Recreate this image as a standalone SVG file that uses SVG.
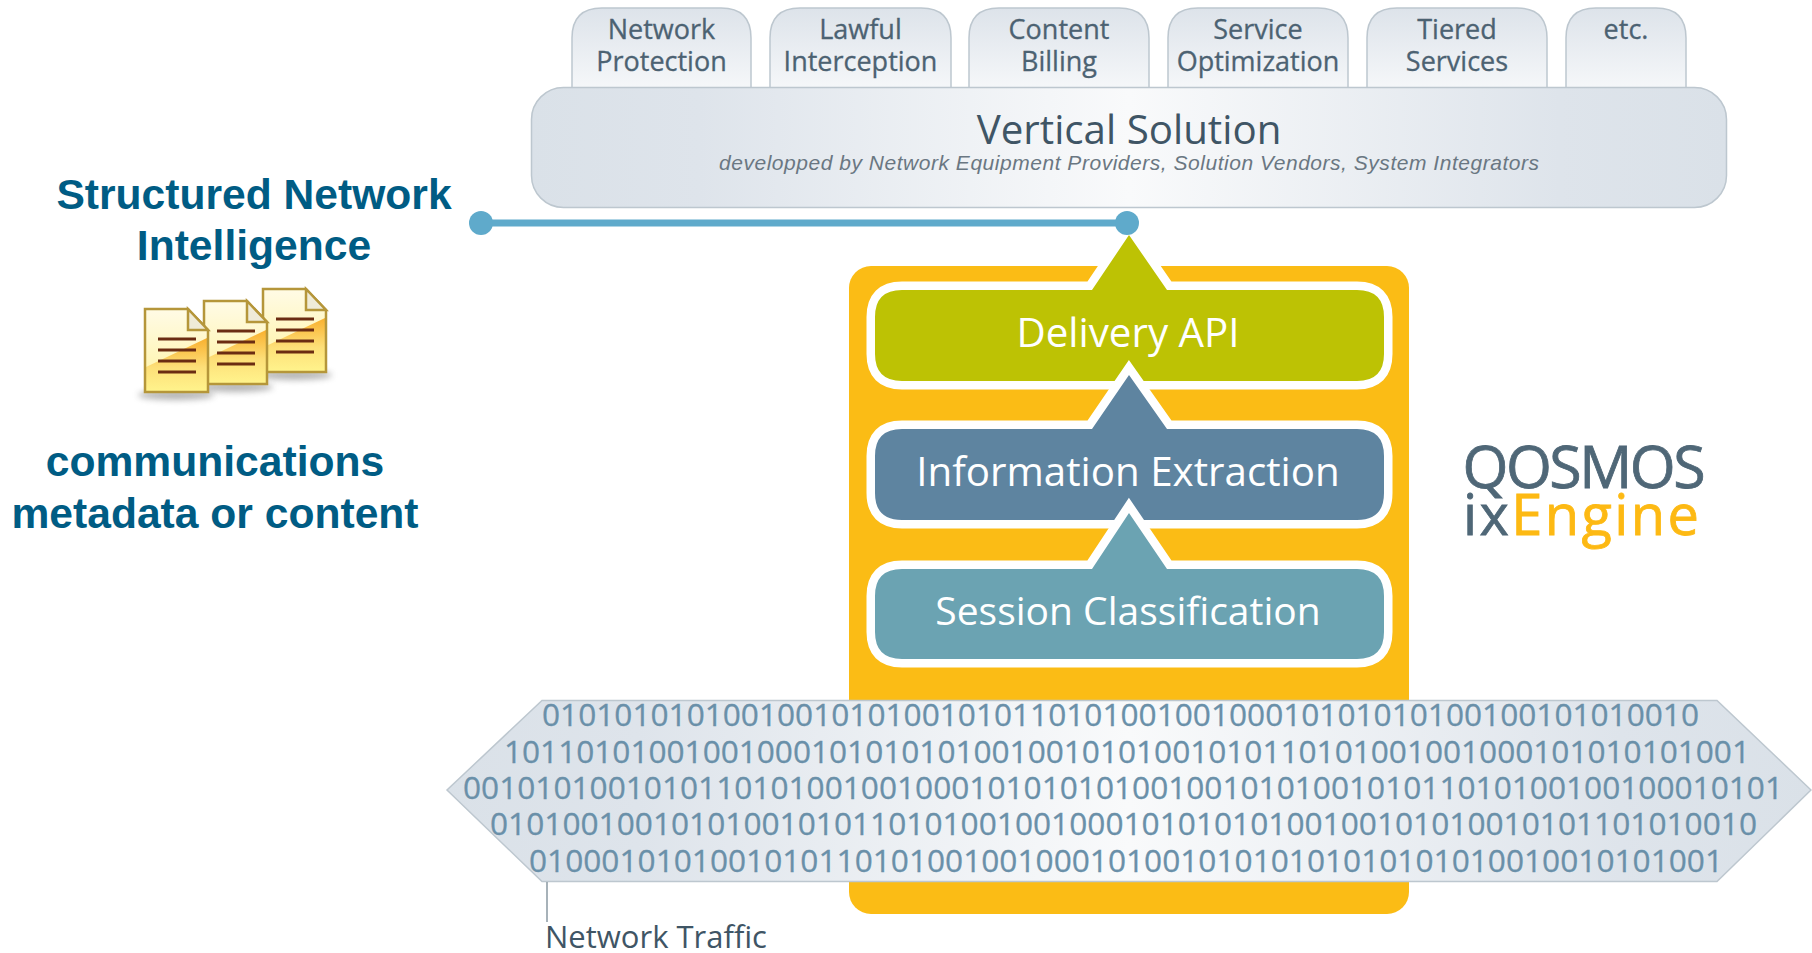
<svg xmlns="http://www.w3.org/2000/svg" xmlns:xlink="http://www.w3.org/1999/xlink" width="1812" height="953" viewBox="0 0 1812 953">
<style>
text{font-family:"Open Sans","Noto Sans",sans-serif;text-anchor:middle}
.tab{fill:url(#tabG);stroke:#BDC7CF;stroke-width:1.5}
.tabt{font-size:27px;fill:#4C6272;stroke:#4C6272;stroke-width:.3}
.bold{font-family:"Liberation Sans",Arial,sans-serif;font-weight:700;font-size:42.600px;fill:#005C84}
.layer{stroke:#fff;stroke-width:17;paint-order:stroke;stroke-linejoin:miter;stroke-miterlimit:4}
.layert{font-size:40.300px;fill:#fff}
.bin{font-size:31.6px;fill:#6A90A9;stroke:#6A90A9;stroke-width:.3;text-anchor:start}
.docl{stroke:#6B2C12;stroke-width:3;fill:none}
</style>
<defs>
<linearGradient id="tabG" x1="0" y1="0" x2="0" y2="1"><stop offset="0" stop-color="#DDE3EA"/><stop offset="1" stop-color="#F5F7F9"/></linearGradient>
<linearGradient id="barG" x1="0" y1="0" x2="1" y2="0"><stop offset="0" stop-color="#DAE1E8"/><stop offset=".14" stop-color="#DEE4EB"/><stop offset=".5" stop-color="#F9FAFB"/><stop offset=".86" stop-color="#DEE4EB"/><stop offset="1" stop-color="#DAE1E8"/></linearGradient>
<linearGradient id="docA" x1="0" y1="0" x2="0" y2="1"><stop offset="0" stop-color="#FFFBE6"/><stop offset="1" stop-color="#FFF3A0"/></linearGradient>
<linearGradient id="docB" x1="0" y1="0" x2="0" y2="1"><stop offset="0" stop-color="#F9B02E"/><stop offset=".55" stop-color="#FDDF78"/><stop offset="1" stop-color="#FFF38C"/></linearGradient>
<filter id="blur" x="-30%" y="-200%" width="160%" height="500%"><feGaussianBlur stdDeviation="3"/></filter>
<g id="doc">
<ellipse cx="176" cy="395" rx="38" ry="5" fill="#777" opacity=".55" filter="url(#blur)"/>
<path d="M145 309H188L208 330V392H145Z" fill="url(#docA)"/>
<path d="M146 367L207 338V391H146Z" fill="url(#docB)"/>
<path d="M145 309H188L208 330V392H145Z" fill="none" stroke="#B5963A" stroke-width="2.5"/>
<path d="M188 309L208 330H188Z" fill="#EFEBD8" stroke="#B5963A" stroke-width="2.5"/>
<path class="docl" d="M158 339H196M158 350H196M158 361H196M158 372H196"/>
</g>
</defs>
<rect width="1812" height="953" fill="#fff"/>

<g id="tab-network-protection"><path class="tab" d="M572 88V38Q572 8 602 8H721Q751 8 751 38V88Z"/><text class="tabt" x="661.500" y="39">Network</text><text class="tabt" x="661.500" y="71">Protection</text></g>
<g id="tab-lawful-interception"><path class="tab" d="M770 88V38Q770 8 800 8H921Q951 8 951 38V88Z"/><text class="tabt" x="860.500" y="39">Lawful</text><text class="tabt" x="860.500" y="71">Interception</text></g>
<g id="tab-content-billing"><path class="tab" d="M969 88V38Q969 8 999 8H1119Q1149 8 1149 38V88Z"/><text class="tabt" x="1059" y="39">Content</text><text class="tabt" x="1059" y="71">Billing</text></g>
<g id="tab-service-optimization"><path class="tab" d="M1168 88V38Q1168 8 1198 8H1318Q1348 8 1348 38V88Z"/><text class="tabt" x="1258" y="39">Service</text><text class="tabt" x="1258" y="71">Optimization</text></g>
<g id="tab-tiered-services"><path class="tab" d="M1367 88V38Q1367 8 1397 8H1517Q1547 8 1547 38V88Z"/><text class="tabt" x="1457" y="39">Tiered</text><text class="tabt" x="1457" y="71">Services</text></g>
<g id="tab-etc"><path class="tab" d="M1566 88V38Q1566 8 1596 8H1656Q1686 8 1686 38V88Z"/><text class="tabt" x="1626" y="39">etc.</text></g>

<g id="vertical-solution">
<rect x="531.500" y="87.500" width="1195" height="120" rx="32" fill="url(#barG)" stroke="#BDC7CF" stroke-width="1.500"/>
<text x="1129" y="144" font-size="40.300" fill="#3F5565">Vertical Solution</text>
<text x="1129" y="170" font-size="21" font-style="italic" fill="#6A7782" style="font-family:'Liberation Sans',Arial,sans-serif" textLength="820" lengthAdjust="spacing">developped by Network Equipment Providers, Solution Vendors, System Integrators</text>
</g>

<g id="qosmos-engine">
<rect x="849" y="266" width="560" height="648" rx="22" fill="#FBBC15"/>
</g>
<g id="delivery-api"><path class="layer" fill="#BDC204" d="M902 290H1092L1129 235L1167 290H1357Q1384 290 1384 317V354Q1384 381 1357 381H902Q875 381 875 354V317Q875 290 902 290Z"/><text class="layert" x="1128" y="347">Delivery API</text></g>
<g id="information-extraction"><path class="layer" fill="#5E84A0" d="M902 429H1092L1129 375L1167 429H1357Q1384 429 1384 456V493Q1384 520 1357 520H902Q875 520 875 493V456Q875 429 902 429Z"/><text class="layert" x="1128" y="486">Information Extraction</text></g>
<g id="session-classification"><path class="layer" fill="#6BA3B2" d="M902 569H1092L1129 513L1167 569H1357Q1384 569 1384 596V632Q1384 659 1357 659H902Q875 659 875 632V596Q875 569 902 569Z"/><text class="layert" x="1128" y="625" style="font-size:39px">Session Classification</text></g>

<g id="network-traffic">
<path d="M542 700.500H1717L1811 790L1717 881.500H542L447 790Z" fill="url(#barG)" stroke="#BDC7CF" stroke-width="1.500"/>
<text class="bin" x="542" y="726" textLength="1157">0101010101001001010100101011010100100100010101010100100101010010</text>
<text class="bin" x="504" y="763" textLength="1246">101101010010010001010101010010010101001010110101001001000101010101001</text>
<text class="bin" x="463" y="799" textLength="1320">0010101001010110101001001000101010101001001010100101011010100100100010101</text>
<text class="bin" x="490" y="835" textLength="1267">0101001001010100101011010100100100010101010100100101010010101101010010</text>
<text class="bin" x="529" y="872" textLength="1194">010001010100101011010100100100010100101010101010101010010010101001</text>
<text x="545" y="948" font-size="31" fill="#3F5565" style="text-anchor:start">Network Traffic</text>
</g>

<g id="logo">
<text x="1584" y="488" font-size="59" fill="#4F6777" stroke="#4F6777" stroke-width=".8" textLength="243">QOSMOS</text>
<text x="1581" y="535" font-size="56" fill="#FDB913" stroke="#FDB913" stroke-width=".8" textLength="236"><tspan fill="#4F6777" stroke="#4F6777">ix</tspan>Engine</text>
</g>

<g id="structured-network-intelligence">
<text class="bold" x="254" y="209">Structured Network</text>
<text class="bold" x="254" y="260">Intelligence</text>
<use href="#doc" xlink:href="#doc" x="118" y="-20"/>
<use href="#doc" xlink:href="#doc" x="59" y="-8"/>
<use href="#doc" xlink:href="#doc"/>
<text class="bold" x="215" y="476">communications</text>
<text class="bold" x="215" y="528">metadata or content</text>
</g>

<g id="connectors">
<path d="M480 223H1127" stroke="#5FAACB" stroke-width="7" fill="none"/>
<circle cx="481" cy="223" r="12" fill="#5FAACB"/>
<circle cx="1127" cy="223" r="12" fill="#5FAACB"/>
<path d="M547 882V922" stroke="#8A98A2" stroke-width="1.500" fill="none"/>
</g>
</svg>
